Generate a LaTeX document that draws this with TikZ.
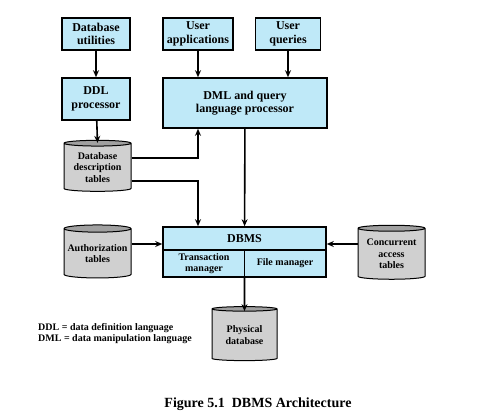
\documentclass[tikz,border=0pt]{standalone}
\usepackage{fontspec}
\setmainfont{Liberation Serif}
\usetikzlibrary{arrows.meta,shapes.geometric}
\definecolor{boxblue}{RGB}{191,233,248}
\definecolor{cylbody}{RGB}{208,208,208}
\definecolor{cyltop}{RGB}{160,160,160}
\tikzset{
	blk/.style={draw, line width=1.6pt, fill=boxblue, align=center, inner sep=0pt, font=\fontsize{12}{13.5}\selectfont\bfseries},
	tank/.style={cylinder, shape border rotate=90, aspect=0.12, draw, line width=1pt, cylinder uses custom fill, cylinder body fill=cylbody, cylinder end fill=cyltop, align=center, inner sep=0pt, font=\fontsize{10}{11.5}\selectfont\bfseries},
	conn/.style={line width=1.6pt, -{Stealth[length=7pt,width=6pt]}},
	lbl/.style={inner sep=0pt, align=center, font=\fontsize{10}{11.5}\selectfont\bfseries}
}

\begin{document}
\begin{tikzpicture}[x=1pt, y=-1pt]
		%%%%% START %%%%%
		\useasboundingbox (0, 0) rectangle (484, 418);
		
		\node[blk, minimum width=68, minimum height=32] (util) at (96, 34) {Database\\utilities};
		\node[blk, minimum width=70, minimum height=32] (uapp) at (198, 34) {User\\applications};
		\node[blk, minimum width=65, minimum height=32] (uqry) at (288, 34) {User\\queries};
		
		\node[blk, minimum width=68, minimum height=42] (ddl) at (96, 99) {DDL\\processor};
		\node[blk, minimum width=164, minimum height=50] (dml) at (245, 103) {DML and query\\language processor};
		
		\node[tank, minimum width=67, minimum height=51] (ddt) at (97.5, 167.5) {Database\\description\\tables};
		
		% DBMS block with its inner parts
		\node[blk, minimum width=163, minimum height=50] (dbms) at (244.5, 252) {};
		\draw[line width=1.6pt] (dbms.west |- 0, 250) -- (dbms.east |- 0, 250);
		\draw[line width=1.6pt] (dbms.center |- 0, 250) -- (dbms.south);
		\node[lbl, font=\fontsize{12}{13.5}\selectfont\bfseries] (dbmsname) at (244.5, 238.5) {DBMS};
		\node[lbl] (trans) at (204, 263.5) {Transaction\\manager};
		\node[lbl] (file) at (285, 263.5) {File manager};
		
		\node[tank, minimum width=67, minimum height=53] (auth) at (97.5, 253.5) {Authorization\\tables};
		\node[tank, minimum width=67, minimum height=54] (conc) at (391.5, 254) {Concurrent\\access\\tables};
		\node[tank, minimum width=65, minimum height=54] (phys) at (244.5, 335) {Physical\\database};
		
		\draw[conn] (util) -- (ddl);
		\draw[conn] (uapp) -- (uapp |- dml.north);
		\draw[conn] (uqry) -- (uqry |- dml.north);
		\draw[conn] (ddl) -- ([yshift=-3pt]ddt.north);
		\draw[conn] ([yshift=9.5pt]ddt.east) -| (uapp |- dml.south);
		\draw[conn] ([yshift=-13.5pt]ddt.east) -| (uapp |- dbms.north);
		\draw[conn] (dml) -- (dbms);
		\draw[conn] ([yshift=9.5pt]auth.east) coordinate (a1) -- (dbms.west |- a1);
		\draw[conn] ([yshift=10pt]conc.west) coordinate (c1) -- (dbms.east |- c1);
		\draw[conn] (dbms.south) -- ([yshift=-5pt]phys.north);
		
		\node[anchor=west, inner sep=0pt, align=left, font=\fontsize{10}{11}\selectfont\bfseries] (legend) at (38, 333.5) {DDL = data definition language\\DML = data manipulation language};
		
		\node[inner sep=0pt, font=\fontsize{14}{16}\selectfont\bfseries] (caption) at (258, 404) {Figure 5.1\ \ DBMS Architecture};
		
		%%%%% END %%%%%
	\end{tikzpicture}
\end{document}
